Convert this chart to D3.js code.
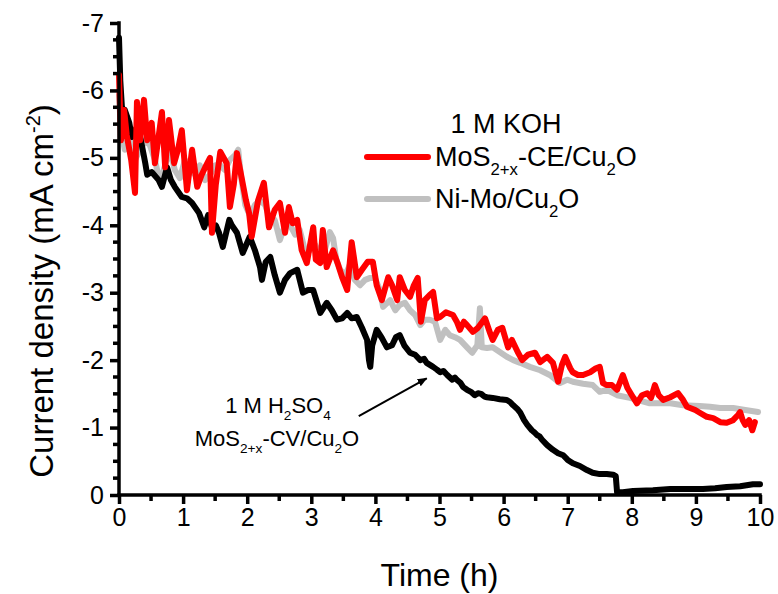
<!DOCTYPE html>
<html>
<head>
<meta charset="utf-8">
<script src="https://cdn.jsdelivr.net/npm/d3@7"></script>
<style>
  html, body { margin: 0; padding: 0; background: #fff; }
  svg { display: block; }
  text { font-family: "Liberation Sans", Arial, sans-serif; fill: #000; }
</style>
</head>
<body>
<svg id="chart" width="778" height="594"></svg>
<script>
// Stability test: current density (mA cm^-2) versus time (h)

// MoS2+x-CE/Cu2O in 1 M KOH  [time h, current density]
const mosKOH = [
  [0.00,-6.23],[0.03,-5.26],[0.08,-5.71],[0.12,-5.34],[0.19,-4.97],[0.25,-4.48],[0.28,-5.83],
  [0.33,-5.26],[0.36,-5.59],[0.39,-5.86],[0.44,-5.26],[0.48,-5.41],[0.51,-5.52],[0.56,-4.92],
  [0.61,-5.26],[0.67,-5.68],[0.72,-4.86],[0.78,-5.56],[0.86,-4.92],[0.92,-5.12],[0.98,-5.41],
  [1.06,-4.52],[1.14,-5.12],[1.22,-4.57],[1.29,-4.75],[1.36,-4.89],[1.42,-5.00],[1.45,-3.89],
  [1.51,-4.60],[1.58,-5.09],[1.68,-4.92],[1.73,-4.27],[1.79,-4.60],[1.84,-5.07],[1.92,-4.67],
  [1.98,-4.37],[2.03,-4.18],[2.07,-3.83],[2.17,-4.37],[2.26,-4.63],[2.34,-3.97],[2.43,-4.23],
  [2.51,-4.33],[2.59,-3.89],[2.65,-4.27],[2.71,-4.03],[2.78,-4.08],[2.85,-3.63],[2.93,-3.44],
  [3.03,-3.97],[3.07,-3.49],[3.14,-3.44],[3.18,-3.93],[3.24,-3.38],[3.34,-3.63],[3.42,-3.41],
  [3.48,-3.23],[3.56,-3.04],[3.63,-3.75],[3.71,-3.23],[3.79,-3.34],[3.88,-3.46],[3.96,-3.46],
  [4.02,-3.11],[4.10,-2.89],[4.20,-3.23],[4.26,-3.11],[4.34,-2.89],[4.38,-3.23],[4.46,-3.04],
  [4.54,-2.94],[4.60,-3.11],[4.66,-3.22],[4.71,-2.57],[4.77,-2.89],[4.85,-2.97],[4.90,-3.01],
  [4.96,-2.62],[5.01,-2.64],[5.10,-2.71],[5.21,-2.67],[5.27,-2.57],[5.32,-2.45],[5.38,-2.57],
  [5.43,-2.52],[5.52,-2.42],[5.60,-2.48],[5.71,-2.62],[5.79,-2.40],[5.83,-2.30],[5.91,-2.45],
  [5.98,-2.48],[6.07,-2.19],[6.13,-2.30],[6.22,-2.12],[6.29,-2.00],[6.38,-2.08],[6.49,-2.11],
  [6.57,-1.97],[6.68,-2.05],[6.77,-1.96],[6.85,-1.68],[6.91,-1.93],[6.96,-2.05],[7.04,-1.88],
  [7.08,-1.82],[7.16,-1.78],[7.24,-1.78],[7.35,-1.82],[7.44,-1.88],[7.50,-1.90],[7.55,-1.66],
  [7.61,-1.63],[7.69,-1.63],[7.77,-1.56],[7.86,-1.78],[7.93,-1.59],[8.00,-1.48],[8.08,-1.36],
  [8.16,-1.48],[8.24,-1.51],[8.30,-1.44],[8.36,-1.63],[8.42,-1.48],[8.49,-1.41],[8.60,-1.45],
  [8.72,-1.51],[8.80,-1.41],[8.86,-1.31],[8.99,-1.26],[9.06,-1.22],[9.17,-1.16],[9.27,-1.14],
  [9.38,-1.08],[9.48,-1.07],[9.58,-1.11],[9.66,-1.19],[9.69,-1.23],[9.73,-1.11],[9.77,-1.04],
  [9.83,-1.11],[9.88,-0.96],[9.92,-1.08]
];

// Ni-Mo/Cu2O in 1 M KOH
const niMoKOH = [
  [0.00,-5.93],[0.03,-5.41],[0.09,-5.12],[0.17,-5.34],[0.25,-4.97],[0.33,-5.12],[0.41,-5.26],
  [0.48,-5.19],[0.56,-4.97],[0.64,-4.63],[0.72,-4.89],[0.80,-5.12],[0.87,-4.82],[0.95,-4.70],
  [1.03,-4.97],[1.11,-4.82],[1.19,-4.75],[1.26,-4.89],[1.34,-4.67],[1.42,-4.75],[1.50,-4.89],
  [1.58,-4.89],[1.65,-4.82],[1.73,-4.97],[1.81,-5.04],[1.86,-5.12],[1.90,-4.75],[1.97,-4.30],
  [2.04,-4.15],[2.12,-4.30],[2.20,-4.37],[2.28,-4.30],[2.36,-4.08],[2.43,-4.08],[2.51,-3.78],
  [2.59,-4.00],[2.67,-4.00],[2.75,-3.86],[2.82,-3.93],[2.90,-3.63],[2.98,-3.63],[3.06,-3.71],
  [3.14,-3.56],[3.21,-3.63],[3.29,-3.90],[3.34,-3.81],[3.39,-3.49],[3.45,-3.34],[3.53,-3.26],
  [3.60,-3.41],[3.68,-3.19],[3.76,-3.11],[3.84,-3.19],[3.92,-3.22],[3.99,-3.22],[4.07,-3.04],
  [4.12,-2.79],[4.23,-2.89],[4.31,-2.74],[4.38,-2.82],[4.46,-2.85],[4.54,-2.74],[4.62,-2.67],
  [4.70,-2.52],[4.77,-2.60],[4.85,-2.60],[4.93,-2.57],[5.01,-2.30],[5.09,-2.45],[5.16,-2.37],
  [5.24,-2.34],[5.32,-2.30],[5.43,-2.19],[5.51,-2.11],[5.59,-2.22],[5.63,-2.77],[5.66,-2.19],
  [5.74,-2.18],[5.83,-2.19],[5.94,-2.12],[6.05,-2.05],[6.15,-2.00],[6.26,-1.96],[6.41,-1.90],
  [6.57,-1.85],[6.72,-1.78],[6.88,-1.66],[6.99,-1.71],[7.08,-1.68],[7.24,-1.65],[7.39,-1.63],
  [7.50,-1.53],[7.61,-1.56],[7.77,-1.48],[7.97,-1.44],[8.28,-1.36],[8.60,-1.36],[8.80,-1.33],
  [9.06,-1.32],[9.22,-1.31],[9.38,-1.29],[9.58,-1.29],[9.77,-1.26],[9.97,-1.23]
];

// MoS2+x-CV/Cu2O in 1 M H2SO4
const mosH2SO4 = [
  [0.00,-6.78],[0.02,-6.15],[0.05,-5.68],[0.09,-5.71],[0.16,-5.52],[0.20,-5.31],[0.27,-5.44],
  [0.31,-5.41],[0.37,-5.12],[0.41,-4.92],[0.44,-4.75],[0.51,-4.79],[0.62,-4.67],[0.67,-4.57],
  [0.75,-4.86],[0.81,-4.67],[0.87,-4.57],[0.98,-4.42],[1.06,-4.40],[1.14,-4.33],[1.25,-4.18],
  [1.33,-3.97],[1.39,-4.15],[1.45,-3.97],[1.51,-4.00],[1.56,-3.89],[1.62,-3.68],[1.72,-4.08],
  [1.76,-4.00],[1.84,-3.89],[1.93,-3.59],[2.04,-3.83],[2.12,-3.63],[2.20,-3.38],[2.23,-3.19],
  [2.29,-3.46],[2.36,-3.53],[2.43,-3.26],[2.51,-3.00],[2.59,-3.19],[2.67,-3.29],[2.78,-3.34],
  [2.87,-3.00],[2.95,-3.04],[3.03,-3.04],[3.14,-2.70],[3.24,-2.85],[3.32,-2.74],[3.40,-2.60],
  [3.48,-2.62],[3.56,-2.70],[3.63,-2.62],[3.71,-2.64],[3.79,-2.48],[3.87,-2.30],[3.90,-2.00],
  [3.92,-1.90],[3.95,-2.22],[4.02,-2.45],[4.10,-2.33],[4.18,-2.19],[4.26,-2.22],[4.32,-2.34],
  [4.38,-2.37],[4.45,-2.22],[4.54,-2.11],[4.62,-2.08],[4.70,-2.00],[4.76,-2.02],[4.80,-1.96],
  [4.85,-1.93],[4.90,-1.90],[4.96,-1.86],[5.01,-1.82],[5.06,-1.84],[5.12,-1.78],[5.20,-1.71],
  [5.24,-1.74],[5.27,-1.71],[5.33,-1.66],[5.37,-1.60],[5.43,-1.56],[5.49,-1.53],[5.55,-1.48],
  [5.60,-1.51],[5.65,-1.50],[5.70,-1.46],[5.74,-1.45],[5.83,-1.44],[5.94,-1.42],[6.05,-1.41],
  [6.10,-1.38],[6.15,-1.33],[6.21,-1.28],[6.26,-1.22],[6.32,-1.11],[6.37,-1.04],[6.44,-0.96],
  [6.48,-0.93],[6.52,-0.89],[6.56,-0.87],[6.60,-0.82],[6.68,-0.74],[6.77,-0.67],[6.85,-0.62],
  [6.93,-0.59],[7.00,-0.52],[7.08,-0.47],[7.19,-0.43],[7.30,-0.37],[7.39,-0.33],[7.50,-0.31],
  [7.61,-0.31],[7.71,-0.30],[7.75,-0.28],[7.77,-0.04],[7.86,-0.04],[8.02,-0.06],[8.33,-0.07],
  [8.60,-0.09],[8.86,-0.09],[9.11,-0.09],[9.30,-0.10],[9.48,-0.12],[9.69,-0.13],[9.89,-0.16],
  [10.00,-0.16]
];

const xTicks = [0, 1, 2, 3, 4, 5, 6, 7, 8, 9, 10];
const yTicks = [0, -1, -2, -3, -4, -5, -6, -7];
const xMinorTicks = [0.5, 1.5, 2.5, 3.5, 4.5, 5.5, 6.5, 7.5, 8.5, 9.5];
const yMinorTicks = d3.range(0, -7.01, -0.25).filter(v => Math.abs(v - Math.round(v)) > 1e-6);

const svg = d3.select("#chart");
const margin = { left: 119, right: 18, top: 23, bottom: 99 };
const W = 778, H = 594;

const x = d3.scaleLinear().domain([0, 10]).range([margin.left, W - margin.right]);
const y = d3.scaleLinear().domain([0, -7]).range([H - margin.bottom, margin.top]);

const line = d3.line().x(d => x(d[0])).y(d => y(d[1])).curve(d3.curveLinear);

const lines = svg.append("g").attr("fill", "none")
  .attr("stroke-width", 6).attr("stroke-linejoin", "round").attr("stroke-linecap", "round");
lines.append("path").datum(niMoKOH).attr("stroke", "#c0c0c0").attr("d", line);
lines.append("path").datum(mosH2SO4).attr("stroke", "#000000").attr("d", line);
lines.append("path").datum(mosKOH).attr("stroke", "#ff0000").attr("d", line);

// Axes: thick Origin-style axis lines with outward major and minor ticks
const tickFont = 25;
const axisStroke = 3.5;

const xAxis = svg.append("g").attr("transform", `translate(0,${y(0)})`)
  .call(d3.axisBottom(x).tickValues(xTicks).tickSize(9).tickPadding(4).tickFormat(d3.format("d")));
xAxis.select(".domain").attr("d", `M${x(0) - axisStroke / 2},0H${x(10) + axisStroke / 2}`);
xAxis.append("g").selectAll("line").data(xMinorTicks).join("line")
  .attr("x1", d => x(d)).attr("x2", d => x(d)).attr("y1", 0).attr("y2", 6);

const yAxis = svg.append("g").attr("transform", `translate(${x(0)},0)`)
  .call(d3.axisLeft(y).tickValues(yTicks).tickSize(9).tickPadding(6).tickFormat(d => d === 0 ? "0" : "-" + Math.abs(d)));
yAxis.select(".domain").attr("d", `M0,${y(-7) - axisStroke / 2}V${y(0) + axisStroke / 2}`);
yAxis.append("g").selectAll("line").data(yMinorTicks).join("line")
  .attr("y1", d => y(d)).attr("y2", d => y(d)).attr("x1", 0).attr("x2", -6);

[xAxis, yAxis].forEach(g => {
  g.select(".domain").attr("stroke", "#000").attr("stroke-width", axisStroke).attr("fill", "none");
  g.selectAll("line").attr("stroke", "#000").attr("stroke-width", axisStroke);
  g.selectAll(".tick text").attr("font-size", tickFont)
    .attr("font-family", "'Liberation Sans', Arial, sans-serif").attr("fill", "#000");
});

// Axis titles
svg.append("text").attr("x", (x(0) + x(10)) / 2).attr("y", 586)
  .attr("text-anchor", "middle").attr("font-size", 32).text("Time (h)");

const yTitle = svg.append("text")
  .attr("transform", `translate(53,291) rotate(-90)`)
  .attr("text-anchor", "middle").attr("font-size", 33);
yTitle.append("tspan").text("Current density (mA cm");
yTitle.append("tspan").attr("dy", -13).attr("font-size", 20).text("-2");
yTitle.append("tspan").attr("dy", 13).text(")");

// Legend
const legend = svg.append("g");
legend.append("text").attr("x", 506).attr("y", 133).attr("text-anchor", "middle")
  .attr("font-size", 27).text("1 M KOH");

function chemLabel(sel, parts, size) {
  parts.forEach(p => {
    const t = sel.append("tspan").text(p.t);
    if (p.sub) t.attr("font-size", size * 0.62).attr("dy", size * 0.32);
    else if (p.back) t.attr("dy", -size * 0.32);
  });
}

const legendItems = [
  { color: "#ff0000", y: 157, parts: [{ t: "MoS" }, { t: "2+x", sub: true }, { t: "-CE/Cu", back: true }, { t: "2", sub: true }, { t: "O", back: true }] },
  { color: "#c0c0c0", y: 199, parts: [{ t: "Ni-Mo/Cu" }, { t: "2", sub: true }, { t: "O", back: true }] }
];
legendItems.forEach(it => {
  legend.append("line").attr("x1", 367).attr("x2", 428).attr("y1", it.y).attr("y2", it.y)
    .attr("stroke", it.color).attr("stroke-width", 6).attr("stroke-linecap", "round");
  const t = legend.append("text").attr("x", 435).attr("y", it.y + 9).attr("font-size", 27);
  chemLabel(t, it.parts, 27);
});

// Annotation for the acid electrolyte curve
const ann = svg.append("g");
const a1 = ann.append("text").attr("x", 278).attr("y", 413).attr("text-anchor", "middle").attr("font-size", 22);
chemLabel(a1, [{ t: "1 M H" }, { t: "2", sub: true }, { t: "SO", back: true }, { t: "4", sub: true }], 22);
const a2 = ann.append("text").attr("x", 277).attr("y", 446).attr("text-anchor", "middle").attr("font-size", 22);
chemLabel(a2, [{ t: "MoS" }, { t: "2+x", sub: true }, { t: "-CV/Cu", back: true }, { t: "2", sub: true }, { t: "O", back: true }], 22);

svg.append("defs").append("marker").attr("id", "arrowhead")
  .attr("viewBox", "0 0 10 10").attr("refX", 9).attr("refY", 5)
  .attr("markerWidth", 5).attr("markerHeight", 5).attr("orient", "auto")
  .append("path").attr("d", "M0,1L10,5L0,9Z").attr("fill", "#000");
ann.append("line").attr("x1", x(3.74)).attr("y1", y(-1.17)).attr("x2", x(4.8)).attr("y2", y(-1.73))
  .attr("stroke", "#000").attr("stroke-width", 2).attr("marker-end", "url(#arrowhead)");
</script>
</body>
</html>
